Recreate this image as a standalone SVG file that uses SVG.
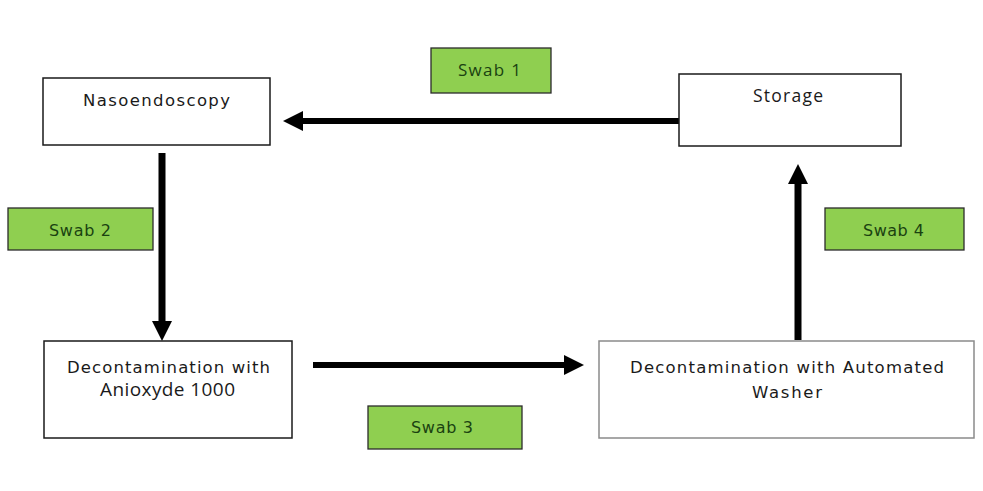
<svg xmlns="http://www.w3.org/2000/svg" width="983" height="491" viewBox="0 0 983 491">
  <style>
    .box { fill: #ffffff; stroke: #1a1a1a; stroke-width: 1.5; }
    .box-gray { fill: #ffffff; stroke: #8a8a8a; stroke-width: 1.5; }
    .swab { fill: #8fcf50; stroke: #2b2b2b; stroke-width: 1.3; }
    .t { font-family: "DejaVu Sans", Verdana, sans-serif; font-size: 16.5px; fill: #1a1a1a; }
    .t2 { font-family: "Open Sans", "Segoe UI", sans-serif; fill: #1a1a1a; }
    .ts { font-family: "DejaVu Sans", Verdana, sans-serif; font-size: 16px; fill: #1a4210; }
    .ts2 { font-family: "Open Sans", Calibri, sans-serif; font-size: 17px; fill: #1a4210; }
    .conn { stroke: #000000; fill: none; }
  </style>
  <defs>
    <marker id="ah" markerUnits="userSpaceOnUse" markerWidth="21" markerHeight="21" refX="0" refY="10" orient="auto">
      <path d="M0,0 L20,10 L0,20 Z" fill="#000000"/>
    </marker>
  </defs>
  <rect width="983" height="491" fill="#ffffff"/>

  <g id="connectors">
    <line class="conn" x1="680" y1="121" x2="303" y2="121" stroke-width="6" marker-end="url(#ah)"/>
    <line class="conn" x1="162" y1="153" x2="162" y2="321" stroke-width="7" marker-end="url(#ah)"/>
    <line class="conn" x1="313" y1="365" x2="564" y2="365" stroke-width="6" marker-end="url(#ah)"/>
    <line class="conn" x1="798" y1="340" x2="798" y2="184" stroke-width="7" marker-end="url(#ah)"/>
  </g>

  <g id="nasoendoscopy">
    <rect class="box" x="43" y="78" width="227" height="67"/>
    <text class="t" x="83" y="106" textLength="147" lengthAdjust="spacing">Nasoendoscopy</text>
  </g>

  <g id="storage">
    <rect class="box" x="679" y="74" width="222" height="72"/>
    <text class="t2" x="753" y="102" font-size="17.5" textLength="70" lengthAdjust="spacing">Storage</text>
  </g>

  <g id="decon-anioxyde">
    <rect class="box" x="44" y="341" width="248" height="97"/>
    <text class="t" x="67" y="373" textLength="203" lengthAdjust="spacing">Decontamination with</text>
    <text class="t2" x="100" y="396" font-size="19" textLength="135" lengthAdjust="spacing">Anioxyde 1000</text>
  </g>

  <g id="decon-washer">
    <rect class="box-gray" x="599" y="341" width="375" height="97"/>
    <text class="t" x="630" y="373" textLength="314" lengthAdjust="spacing">Decontamination with Automated</text>
    <text class="t" x="752" y="398" textLength="70" lengthAdjust="spacing">Washer</text>
  </g>

  <g id="swab1">
    <rect class="swab" x="431" y="48" width="120" height="45"/>
    <text class="ts2" x="458" y="76" textLength="63" lengthAdjust="spacing">Swab 1</text>
  </g>

  <g id="swab2">
    <rect class="swab" x="8" y="208" width="145" height="42"/>
    <text class="ts" x="49" y="236" textLength="62" lengthAdjust="spacing">Swab 2</text>
  </g>

  <g id="swab3">
    <rect class="swab" x="368" y="406" width="154" height="43"/>
    <text class="ts" x="411" y="433" textLength="62" lengthAdjust="spacing">Swab 3</text>
  </g>

  <g id="swab4">
    <rect class="swab" x="825" y="208" width="139" height="42"/>
    <text class="ts" x="863" y="236" textLength="61" lengthAdjust="spacing">Swab 4</text>
  </g>
</svg>
